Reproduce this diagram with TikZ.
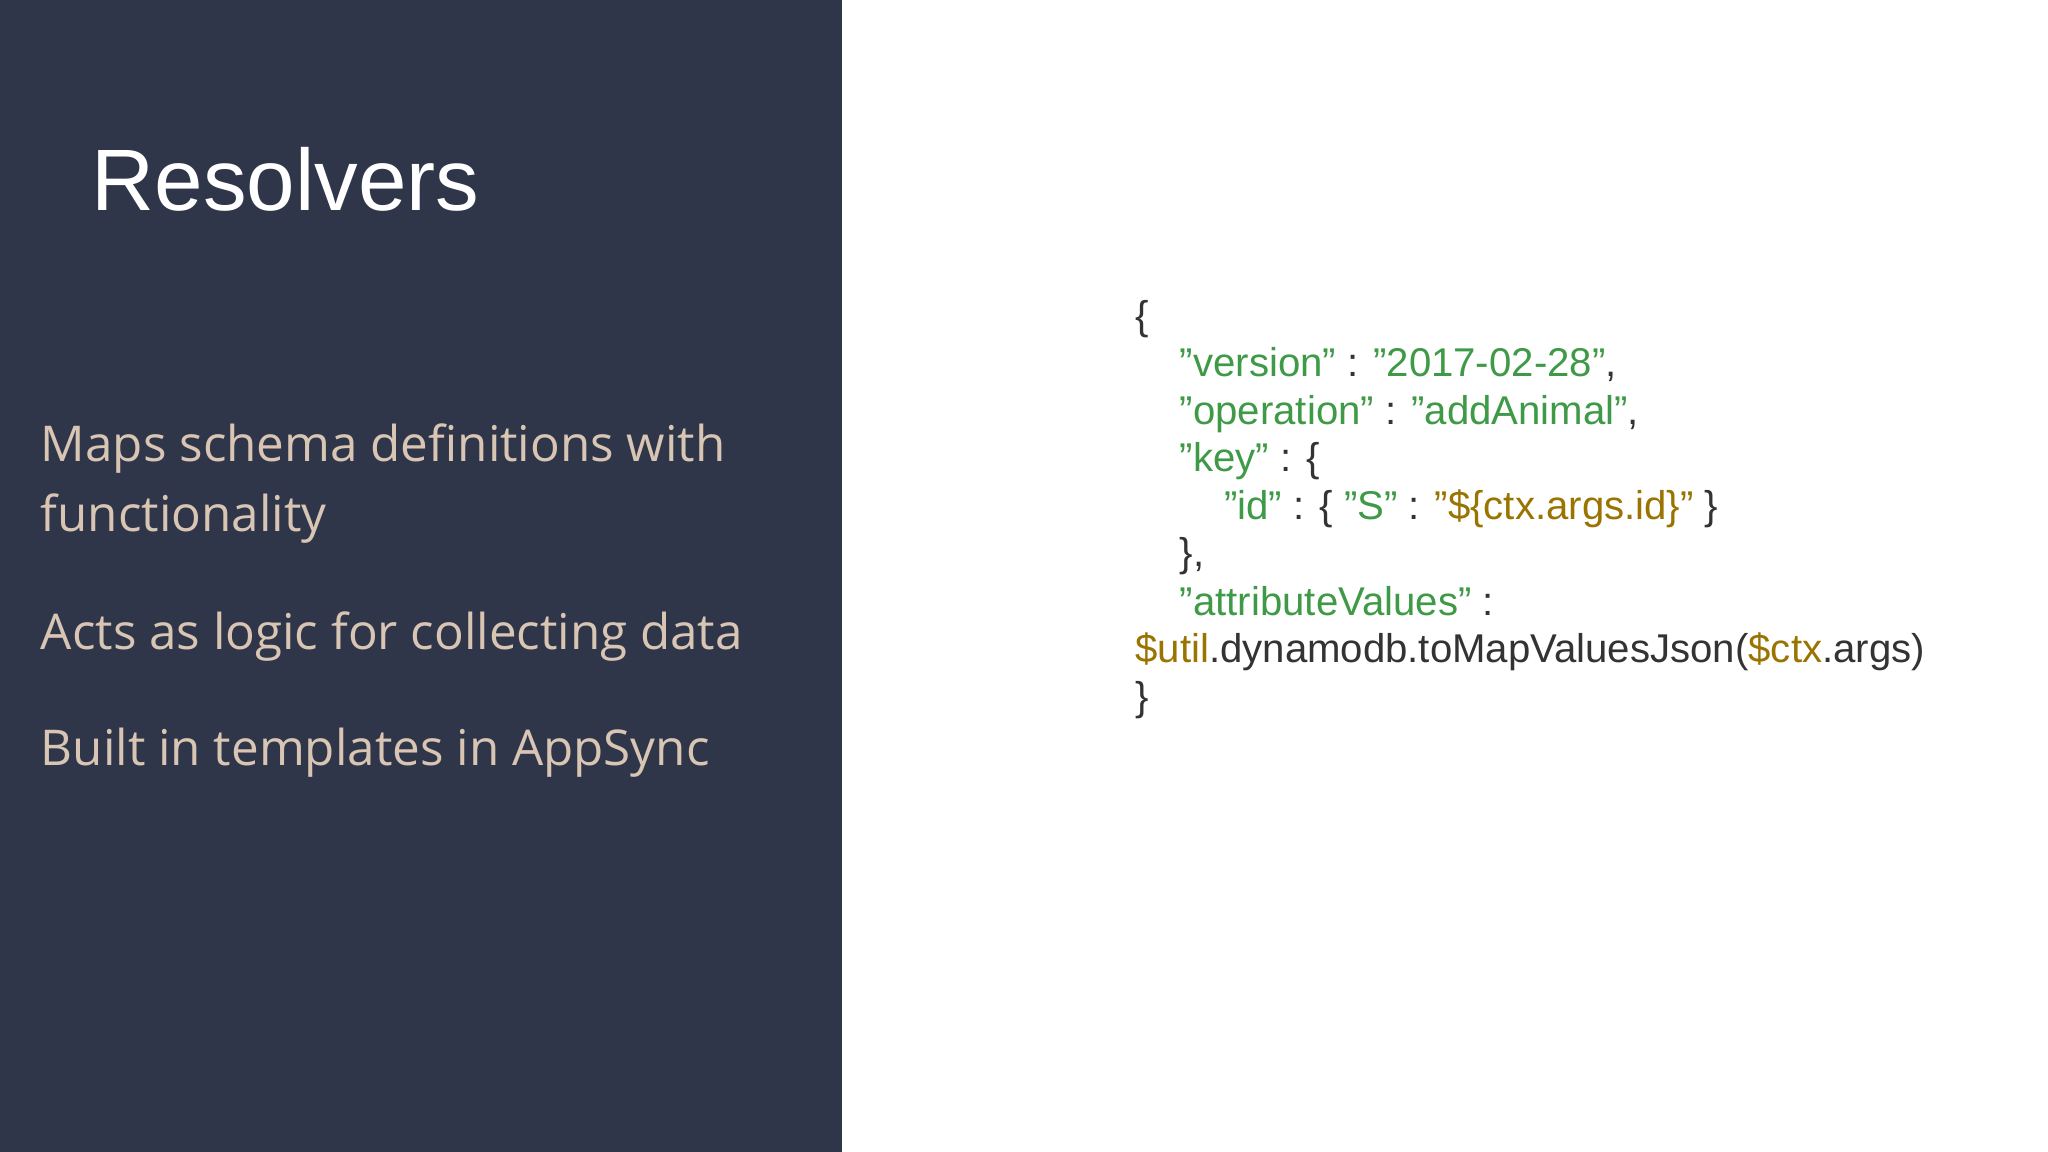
\documentclass[tikz,border=0pt]{standalone}
\usepackage{fontspec}
\setmainfont{Liberation Sans}
\newfontfamily\bodyfont{Open Sans}
\definecolor{panel}{HTML}{2F3649}
\definecolor{beige}{HTML}{D8C5B3}
\definecolor{cgreen}{HTML}{3F9A48}
\definecolor{cgold}{HTML}{9A7400}
\definecolor{ctext}{HTML}{333333}
\begin{document}
\begin{tikzpicture}[x=0.02cm,y=-0.02cm,
  title/.style={anchor=base west,inner sep=0,text=white,font=\fontsize{38}{44}\selectfont},
  bullet/.style={anchor=base west,inner sep=0,text=beige,font=\bodyfont\fontsize{21.5}{26}\selectfont},
  code/.style={anchor=base west,inner sep=0,text=ctext,font=\fontsize{17.5}{21}\selectfont}]
\useasboundingbox (0,0) rectangle (1568,882);
\fill[white] (0,0) rectangle (1568,882);
\fill[panel] (0,0) rectangle (645,882);
\node[title] (t) at (70,161) {Resolvers};
\node[bullet] (b1) at (31,353) {Maps schema definitions with};
\node[bullet] (b1b) at (31,407) {functionality};
\node[bullet] (b2) at (31,497) {Acts as logic for collecting data};
\node[bullet] (b3) at (31,586) {Built in templates in AppSync};
\newcommand{\G}[1]{\textcolor{cgreen}{#1}}
\newcommand{\Y}[1]{\textcolor{cgold}{#1}}
\node[code] (c1) at (869,252) {\{};
\node[code] (c2) at (903,288) {\G{"version"} : \G{"2017-02-28"},};
\node[code] (c3) at (903,325) {\G{"operation"} : \G{"addAnimal"},};
\node[code] (c4) at (903,361) {\G{"key"} : \{};
\node[code] (c5) at (937,398) {\G{"id"} : \{ \G{"S"} : \Y{"\$\{ctx.args.id\}"} \}};
\node[code] (c6) at (903,434) {\},};
\node[code] (c7) at (903,471) {\G{"attributeValues"} :};
\node[code] (c8) at (869,507) {\Y{\$util}.dynamodb.toMapValuesJson(\Y{\$ctx}.args)};
\node[code] (c9) at (869,544) {\}};
\end{tikzpicture}
\end{document}
